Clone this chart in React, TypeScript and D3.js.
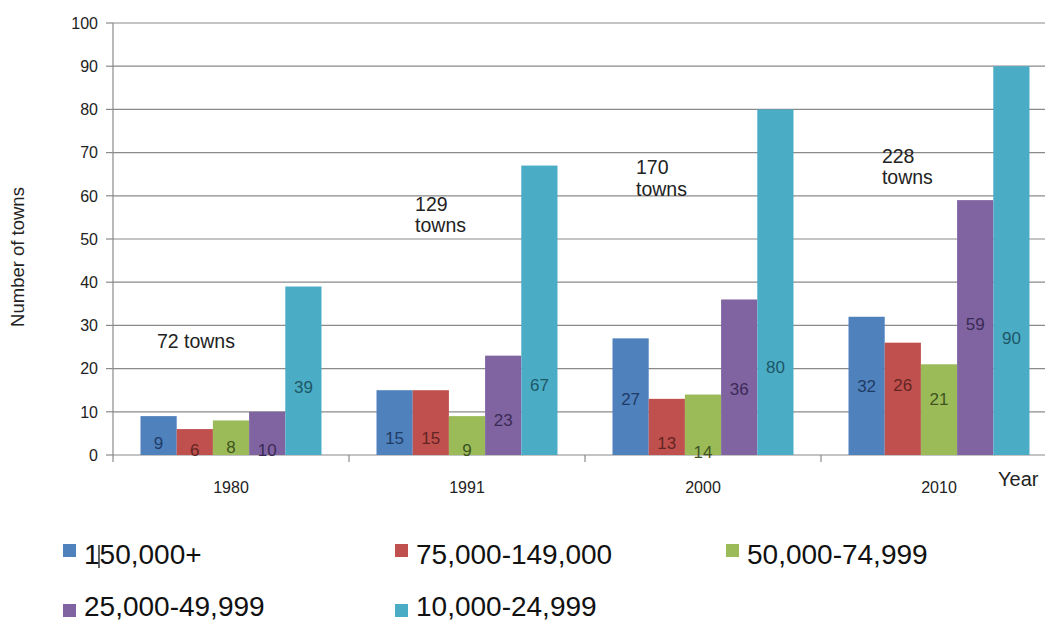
import React from "react";
import * as d3 from "d3";

const years = ["1980", "1991", "2000", "2010"];
const seriesNames = ["150,000+", "75,000-149,000", "50,000-74,999", "25,000-49,999", "10,000-24,999"];
const seriesColors = ["#4F81BD", "#C0504D", "#9BBB59", "#8064A2", "#4BACC6"];
const labelColors = ["#1F3C66", "#632523", "#3F5420", "#3B2A55", "#1D5866"];
// values per series, indexed by year
const s150k = [9, 15, 27, 32];
const s75k = [6, 15, 13, 26];
const s50k = [8, 9, 14, 21];
const s25k = [10, 23, 36, 59];
const s10k = [39, 67, 80, 90];
const seriesValues = [s150k, s75k, s50k, s25k, s10k];
// height (in axis units) at which each value label sits, as in the source
const labelLevels = [
  [2.8, 3.9, 13.1, 15.9],
  [1.2, 3.9, 2.7, 16.2],
  [1.85, 1.3, 0.7, 13.0],
  [1.2, 8.1, 15.3, 30.4],
  [15.7, 16.2, 20.5, 27.0],
];
const yTicks = [0, 10, 20, 30, 40, 50, 60, 70, 80, 90, 100];
const totals = [
  { year: "1980", lines: ["72 towns"], at: 0.186, level: 24.8 },
  { year: "1991", lines: ["129", "towns"], at: 0.28, level: 56.5 },
  { year: "2000", lines: ["170", "towns"], at: 0.216, level: 65.0 },
  { year: "2010", lines: ["228", "towns"], at: 0.258, level: 67.6 },
];

const W = 1045;
const H = 623;
const FONT = "'Liberation Sans', Arial, Helvetica, sans-serif";

export default function App() {
  const x = d3.scaleBand<string>().domain(years).range([113, 1057]).padding(0);
  const inner = d3
    .scaleBand<number>()
    .domain(d3.range(seriesNames.length))
    .range([0, x.bandwidth()])
    .paddingInner(0)
    .paddingOuter(0.76);
  const y = d3.scaleLinear().domain([0, 100]).range([455, 23]);
  const grid = "#8a8a8a";

  const legendCols = [63, 395, 726];
  const legendRows = [564, 616];

  return (
    <svg
      width={W}
      height={H}
      style={{ position: "absolute", left: 0, top: 0, display: "block", background: "#fff" }}
      fontFamily={FONT}
    >
      <rect x={0} y={0} width={W} height={H} fill="#fff" />
      {/* gridlines */}
      {yTicks.map((t) => (
        <g key={t}>
          <line x1={113} x2={W} y1={y(t)} y2={y(t)} stroke={grid} strokeWidth={1.2} />
          <line x1={106} x2={113} y1={y(t)} y2={y(t)} stroke={grid} strokeWidth={1.2} />
          <text x={98} y={y(t)} dy="0.36em" textAnchor="end" fontSize={16} fill="#222">
            {t}
          </text>
        </g>
      ))}
      {/* y axis */}
      <line x1={113} x2={113} y1={y(100)} y2={y(0)} stroke={grid} strokeWidth={1.2} />
      {/* x category ticks */}
      {years.map((yr) => (
        <line key={yr} x1={x(yr)!} x2={x(yr)!} y1={y(0)} y2={y(0) + 7} stroke={grid} strokeWidth={1.2} />
      ))}
      {/* bars */}
      {seriesValues.map((vals, si) =>
        vals.map((v, yi) => (
          <rect
            key={`${si}-${yi}`}
            x={x(years[yi])! + inner(si)!}
            y={y(v)}
            width={inner.bandwidth()}
            height={y(0) - y(v)}
            fill={seriesColors[si]}
          />
        ))
      )}
      {/* value labels */}
      {seriesValues.map((vals, si) =>
        vals.map((v, yi) => (
          <text
            key={`l${si}-${yi}`}
            x={x(years[yi])! + inner(si)! + inner.bandwidth() / 2}
            y={y(labelLevels[si][yi])}
            dy="0.36em"
            textAnchor="middle"
            fontSize={17}
            fill={labelColors[si]}
          >
            {v}
          </text>
        ))
      )}
      {/* x tick labels */}
      {years.map((yr) => (
        <text key={yr} x={x(yr)! + x.bandwidth() / 2} y={493} textAnchor="middle" fontSize={16} fill="#222">
          {yr}
        </text>
      ))}
      <text x={998} y={486} fontSize={20} fill="#222">
        Year
      </text>
      {/* y title */}
      <text
        transform={`translate(24,257) rotate(-90)`}
        textAnchor="middle"
        fontSize={18.5}
        fill="#222"
      >
        Number of towns
      </text>
      {/* totals annotations */}
      {totals.map((t) => (
        <text
          key={t.year}
          x={x(t.year)! + t.at * x.bandwidth()}
          y={y(t.level)}
          fontSize={19.5}
          fill="#222"
        >
          {t.lines.map((ln, i) => (
            <tspan key={i} x={x(t.year)! + t.at * x.bandwidth()} dy={i === 0 ? 0 : 21.5}>
              {ln}
            </tspan>
          ))}
        </text>
      ))}
      {/* legend */}
      {seriesNames.map((name, i) => {
        const col = i < 3 ? i : i - 3;
        const row = i < 3 ? 0 : 1;
        const lx = legendCols[col];
        const ly = legendRows[row];
        return (
          <g key={name}>
            <rect x={lx} y={ly - (row === 0 ? 20 : 12)} width={13} height={13} fill={seriesColors[i]} />
            <text x={lx + 21} y={ly} fontSize={28} fill="#111">
              {name}
            </text>
          </g>
        );
      })}
      {/* text cursor artefact in the first legend entry */}
      <line x1={99} x2={99} y1={545} y2={568} stroke="#111" strokeWidth={1.3} />
    </svg>
  );
}
